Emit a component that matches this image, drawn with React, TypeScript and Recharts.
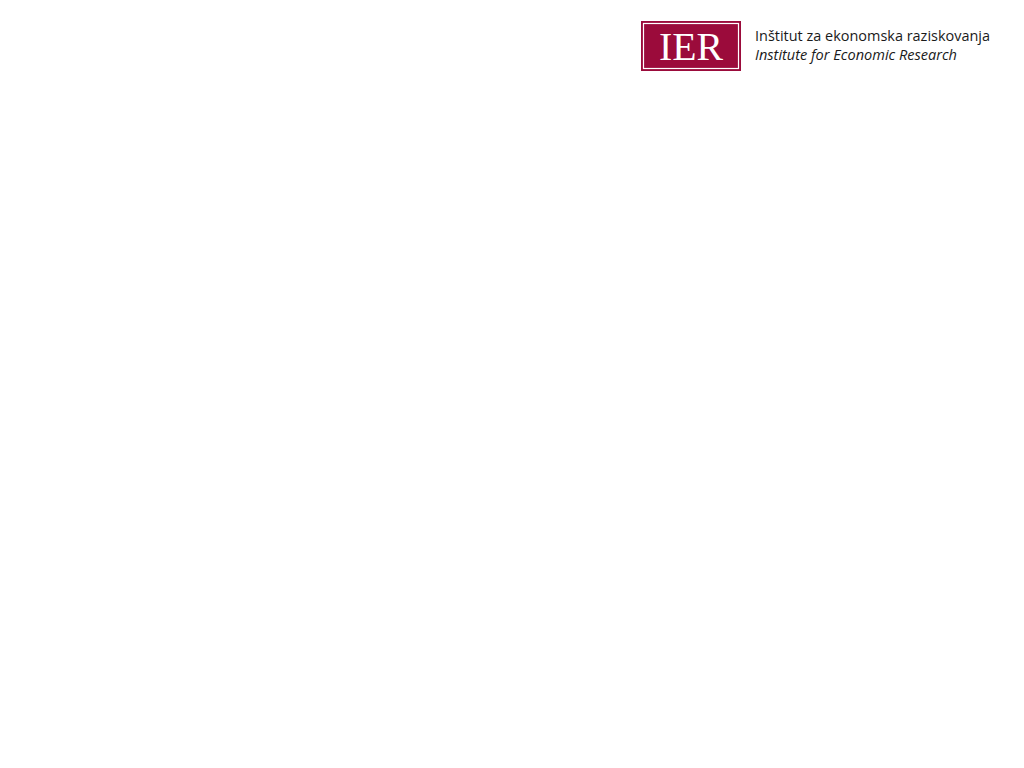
import { LineChart } from 'recharts';

// The slide carries no plotted series: only the institute logo in the top-right corner.
const logoMark = 'IER';
const logoLines = ['Inštitut za ekonomska raziskovanja', 'Institute for Economic Research'];
const emptyData: { name: string }[] = [];

const BRAND = '#9b0b3b';

function Logo() {
  return (
    <svg width={1024} height={768} style={{ position: 'absolute', left: 0, top: 0, pointerEvents: 'none' }}>
      <rect x={641} y={21} width={100} height={50} fill={BRAND} />
      <rect x={643.5} y={23.5} width={95} height={45} fill="none" stroke="#fff" strokeWidth={1.2} />
      <text
        x={691}
        y={59.5}
        textAnchor="middle"
        fill="#fff"
        fontFamily="'Liberation Serif', 'DejaVu Serif', serif"
        fontSize={40}
        textLength={64}
        lengthAdjust="spacingAndGlyphs"
      >
        {logoMark}
      </text>
      <text
        x={755}
        y={41}
        fill="#1a1a1a"
        fontFamily="'Open Sans', 'Noto Sans', sans-serif"
        fontSize={14.5}
        textLength={235}
        lengthAdjust="spacingAndGlyphs"
      >
        {logoLines[0]}
      </text>
      <text
        x={755}
        y={60}
        fill="#1a1a1a"
        fontFamily="'Open Sans', 'Noto Sans', sans-serif"
        fontStyle="italic"
        fontSize={14.5}
        textLength={202}
        lengthAdjust="spacingAndGlyphs"
      >
        {logoLines[1]}
      </text>
    </svg>
  );
}

export default function App() {
  return (
    <div style={{ position: 'absolute', left: 0, top: 0, width: 1024, height: 768, background: '#fff' }}>
      <LineChart width={1024} height={768} data={emptyData} margin={{ top: 0, right: 0, left: 0, bottom: 0 }} />
      <Logo />
    </div>
  );
}
